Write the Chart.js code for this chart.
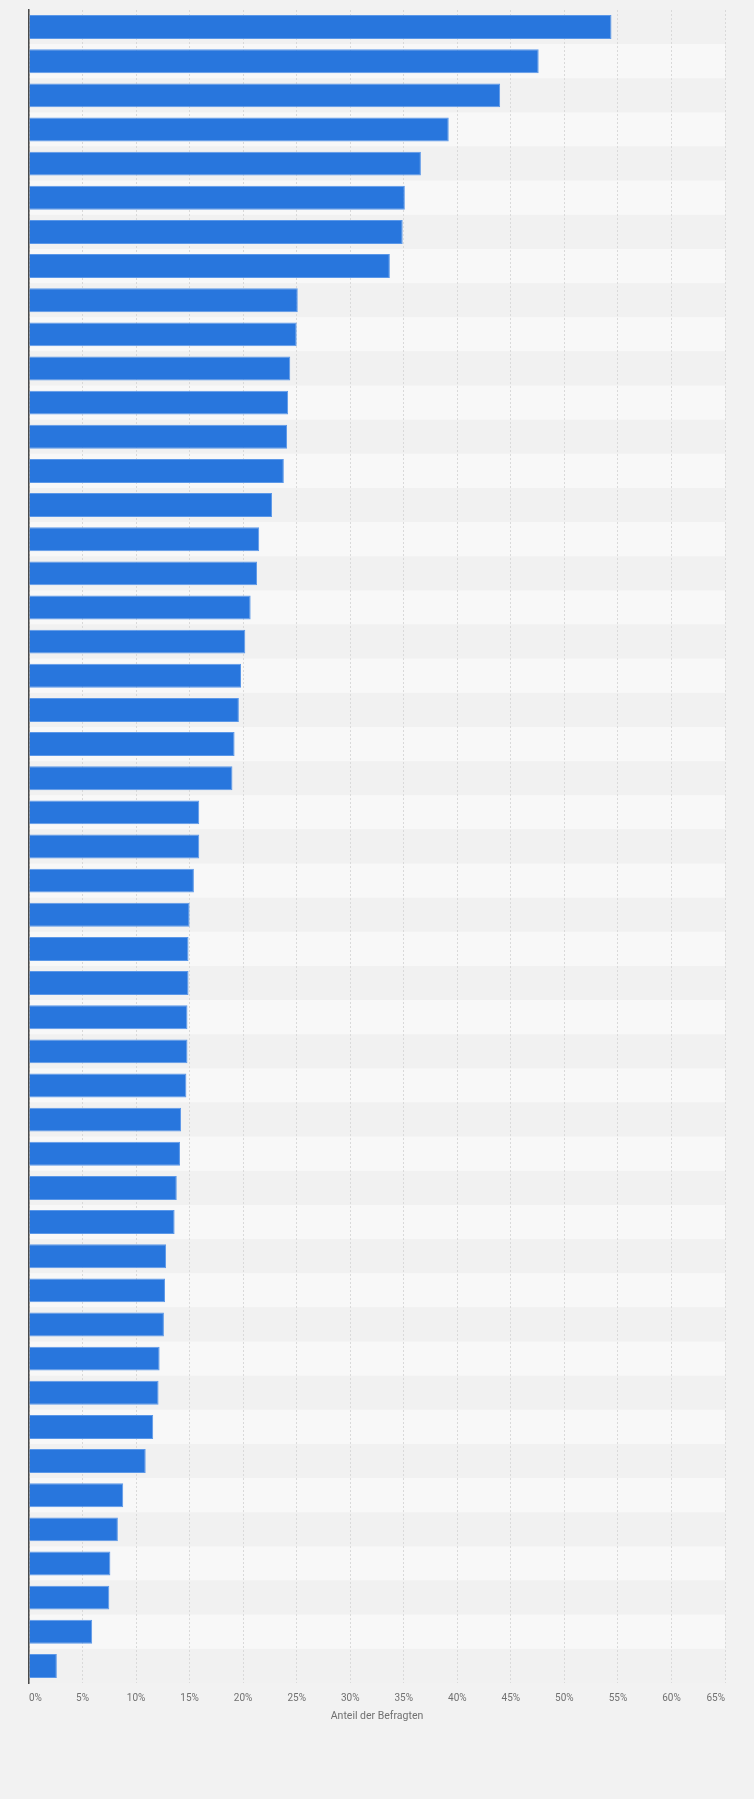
<!DOCTYPE html>
<html lang="de">
<head>
  <meta charset="UTF-8">
  <title>Anteil der Befragten</title>
  <script src="https://cdn.jsdelivr.net/npm/chart.js"></script>
  <style>
    html, body {
      margin: 0;
      padding: 0;
      background: #f2f2f2;
    }
    #wrap {
      position: relative;
      width: 754px;
      height: 1799px;
    }
  </style>
</head>
<body>
  <div id="wrap"><canvas id="shareChart"></canvas></div>

  <script>
    // Category names are not shown in the picture, so plain placeholders
    const categories = Array.from({ length: 49 }, (_, i) => 'Aussage ' + (i + 1));

    // Share of respondents in percent (top to bottom)
    const shares = [
      54.4, 47.6, 44.0, 39.2, 36.6, 35.1, 34.9, 33.7,
      25.1, 25.0, 24.4, 24.2, 24.1, 23.8, 22.7, 21.5, 21.3, 20.7, 20.2, 19.8, 19.6, 19.2, 19.0,
      15.9, 15.9, 15.4, 15.0, 14.9, 14.9, 14.8, 14.8, 14.7, 14.2, 14.1, 13.8, 13.6,
      12.8, 12.7, 12.6, 12.2, 12.1, 11.6, 10.9,
      8.8, 8.3, 7.6, 7.5, 5.9, 2.6
    ];

    const xTickValues = [0, 5, 10, 15, 20, 25, 30, 35, 40, 45, 50, 55, 60, 65];
    const axisTitle = 'Anteil der Befragten';

    // alternating row stripes behind the grid
    const rowStripes = {
      id: 'rowStripes',
      beforeDraw(chart) {
        const { ctx, chartArea, scales } = chart;
        const y = scales.y;
        ctx.save();
        categories.forEach((c, i) => {
          const top = y.getPixelForValue(i - 0.5);
          const bottom = y.getPixelForValue(i + 0.5);
          ctx.fillStyle = i % 2 === 0 ? '#f1f1f1' : '#f8f8f8';
          ctx.fillRect(chartArea.left, top, chartArea.right - chartArea.left, bottom - top);
        });
        ctx.restore();
      }
    };

    const ctx = document.getElementById('shareChart').getContext('2d');
    new Chart(ctx, {
      type: 'bar',
      data: {
        labels: categories,
        datasets: [{
          label: axisTitle,
          data: shares,
          backgroundColor: '#2876dd',
          borderColor: '#5c98e8',
          borderWidth: 1,
          categoryPercentage: 1,
          barPercentage: 0.7
        }]
      },
      options: {
        indexAxis: 'y',
        responsive: true,
        maintainAspectRatio: false,
        animation: false,
        layout: {
          padding: { left: 29, right: 29, top: 10, bottom: 76 }
        },
        plugins: {
          legend: { display: false },
          tooltip: { enabled: false }
        },
        scales: {
          x: {
            min: 0,
            max: 65,
            afterBuildTicks: scale => {
              scale.ticks = xTickValues.map(v => ({ value: v }));
            },
            // fixed axis band: tick labels then title below
            afterFit: scale => { scale.height = 40; },
            grid: {
              color: '#d9d9d9',
              lineWidth: 1,
              drawTicks: false
            },
            border: { display: false, dash: [2, 2] },
            ticks: {
              align: 'inner',
              padding: 9,
              color: '#707070',
              font: { family: 'Roboto, Arial, sans-serif', size: 10 },
              callback: v => v + '%'
            },
            title: {
              display: true,
              text: axisTitle,
              color: '#707070',
              padding: 0,
              font: { family: 'Roboto, Arial, sans-serif', size: 10.5 }
            }
          },
          y: {
            afterFit: scale => { scale.width = 0; },
            grid: { display: false },
            border: { display: true, color: '#4a4a4a', width: 1.5 },
            ticks: { display: false }
          }
        }
      },
      plugins: [rowStripes]
    });
  </script>
</body>
</html>
